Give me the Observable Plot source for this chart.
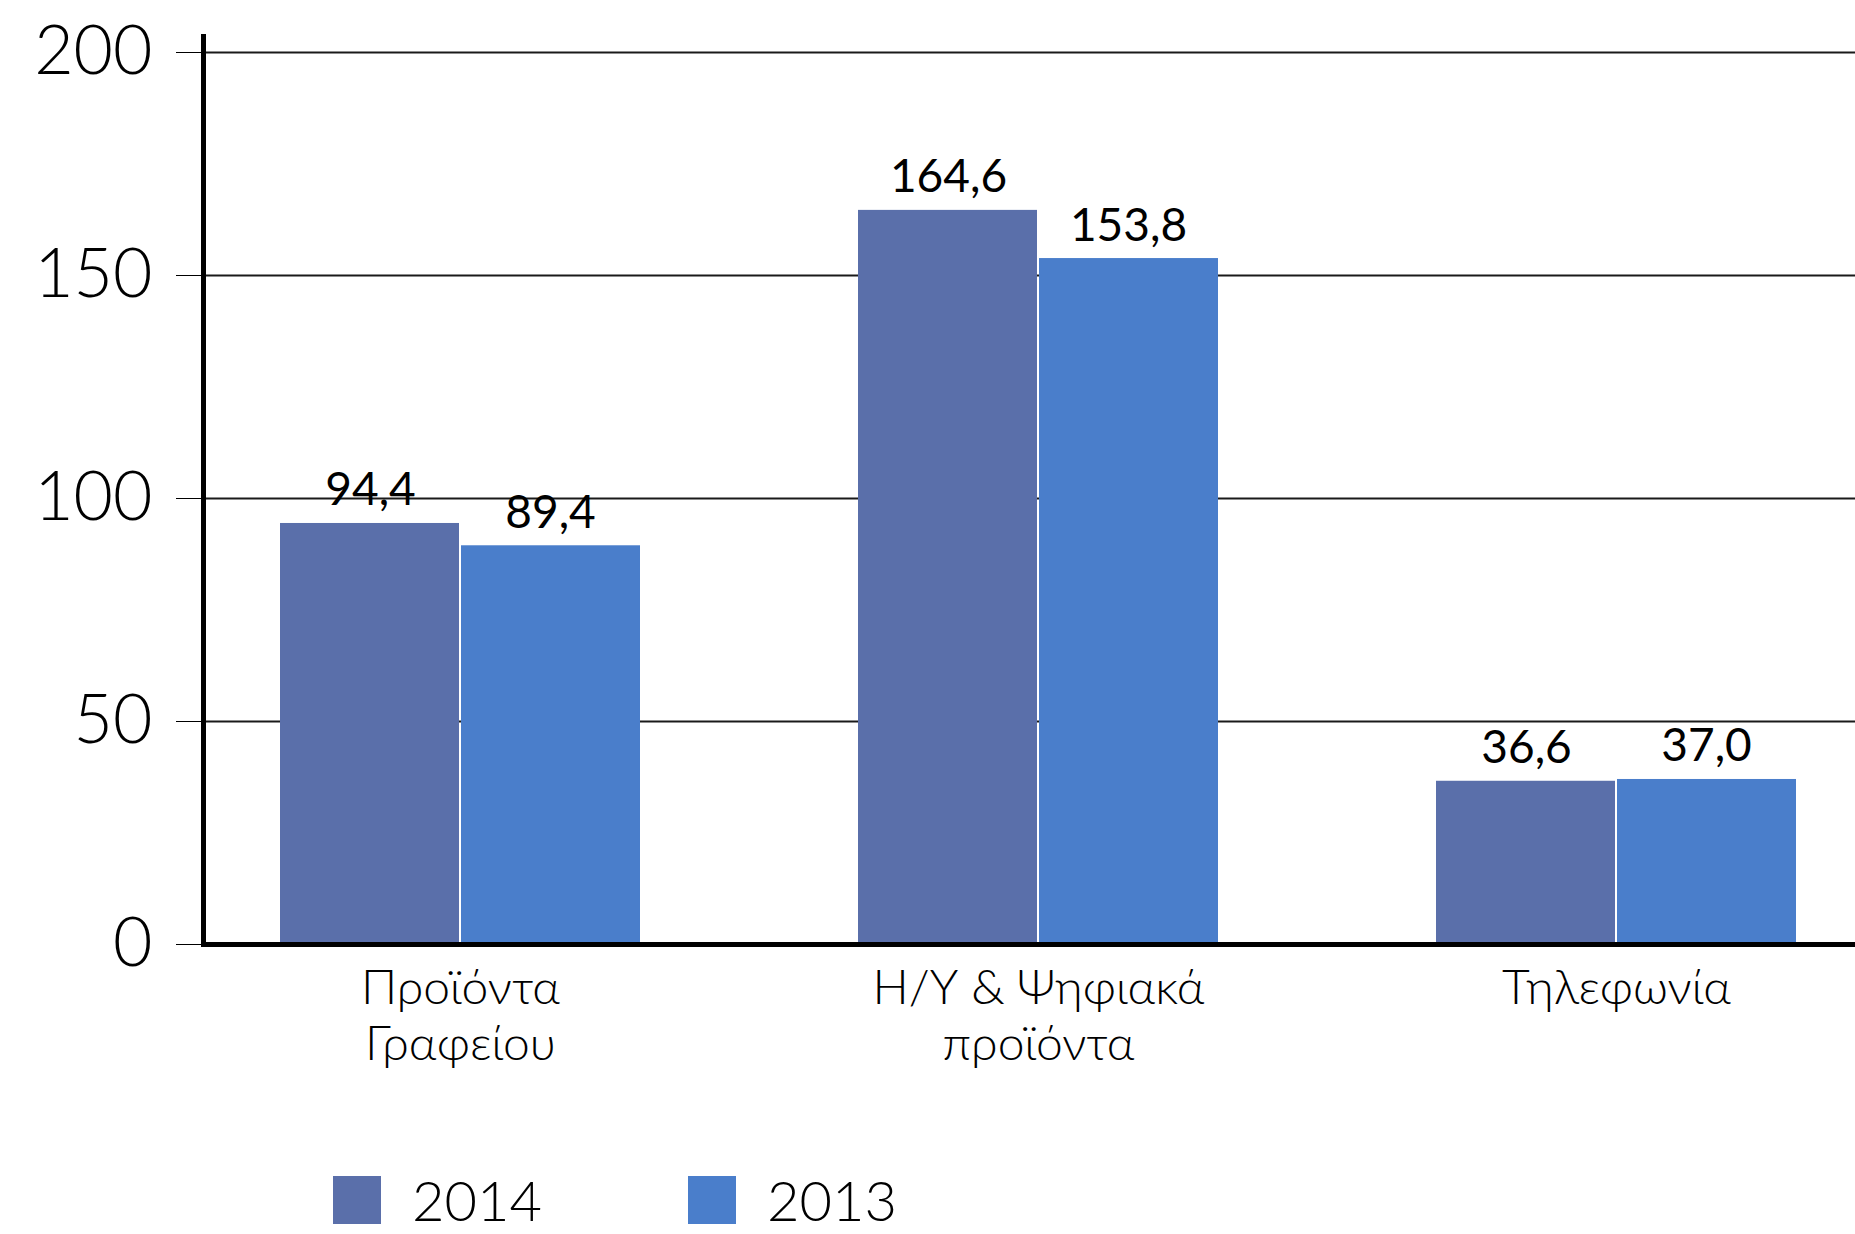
<!DOCTYPE html>
<html>
<head>
<meta charset="utf-8">
<script src="https://cdn.jsdelivr.net/npm/d3@7"></script>
<script src="https://cdn.jsdelivr.net/npm/@observablehq/plot@0.6"></script>
<style>
  html, body { margin: 0; padding: 0; background: #fff; }
  body { width: 1855px; height: 1234px; overflow: hidden; font-family: Lato, "Noto Sans", sans-serif; }
  #legend { display: flex; align-items: center; padding-left: 333px; margin-top: 26px; }
  .item { display: flex; align-items: center; width: 355px; }
  .sw { width: 48px; height: 48px; margin-right: 31px; }
  .lab { font-size: 56px; font-weight: 300; color: #000; line-height: 48px; }
</style>
</head>
<body>
<div id="chart"></div>
<div id="legend"></div>
<script>
const categories = ["Προϊόντα Γραφείου", "Η/Υ & Ψηφιακά προϊόντα", "Τηλεφωνία"];
const categoryLabels = ["Προϊόντα\nΓραφείου", "Η/Υ & Ψηφιακά\nπροϊόντα", "Τηλεφωνία"];
const years = ["2014", "2013"];
const colors = ["#5a6faa", "#4a7ecb"];
const values2014 = [94.4, 164.6, 36.6];
const values2013 = [89.4, 153.8, 37.0];
const yTicks = [0, 50, 100, 150, 200];

const data2014 = categories.map((c, i) => ({category: c, year: years[0], value: values2014[i]}));
const data2013 = categories.map((c, i) => ({category: c, year: years[1], value: values2013[i]}));
const fmt = v => v.toFixed(1).replace(".", ",");
const labelOf = c => categoryLabels[categories.indexOf(c)];

const chart = Plot.plot({
  width: 1855,
  height: 1150,
  marginTop: 36,
  marginLeft: 203,
  marginRight: 0,
  marginBottom: 206,
  style: {fontFamily: "Lato, 'Noto Sans', sans-serif", fontSize: "68px", fontWeight: 300, color: "#000", background: "#fff"},
  x: {domain: categories, range: [171, 1905], paddingInner: 0.377, paddingOuter: 0.1885, axis: null},
  y: {domain: [0, 200], range: [944, 52], ticks: yTicks, tickSize: 27, tickPadding: 24, tickFormat: d => String(d), label: null},
  color: {domain: years, range: colors},
  marks: [
    Plot.ruleY(yTicks.filter(d => d > 0), {y: d => d, stroke: "#1a1a1a", strokeWidth: 2}),
    Plot.barY(data2014, {x: "category", y: "value", fill: "year", insetRight: 181}),
    Plot.barY(data2013, {x: "category", y: "value", fill: "year", insetLeft: 181}),
    Plot.text(data2014, {x: "category", y: "value", text: d => fmt(d.value), dx: -90, dy: -18, lineAnchor: "bottom", fontSize: 46, fontWeight: 400, fill: "#000"}),
    Plot.text(data2013, {x: "category", y: "value", text: d => fmt(d.value), dx: 90, dy: -18, lineAnchor: "bottom", fontSize: 46, fontWeight: 400, fill: "#000"}),
    Plot.text(categories, {x: d => d, text: labelOf, frameAnchor: "bottom", lineAnchor: "top", dy: 19, fontSize: 48, fontWeight: 300, lineHeight: 1.18, fill: "#000"}),
    Plot.ruleY([0], {stroke: "#000", strokeWidth: 5}),
    Plot.frame({anchor: "left", stroke: "#000", strokeWidth: 5})
  ]
});
document.getElementById("chart").appendChild(chart);

const legend = document.getElementById("legend");
years.forEach((y, i) => {
  const item = document.createElement("div");
  item.className = "item";
  const sw = document.createElement("div");
  sw.className = "sw";
  sw.style.background = colors[i];
  const lab = document.createElement("div");
  lab.className = "lab";
  lab.textContent = y;
  item.appendChild(sw);
  item.appendChild(lab);
  legend.appendChild(item);
});
</script>
</body>
</html>
